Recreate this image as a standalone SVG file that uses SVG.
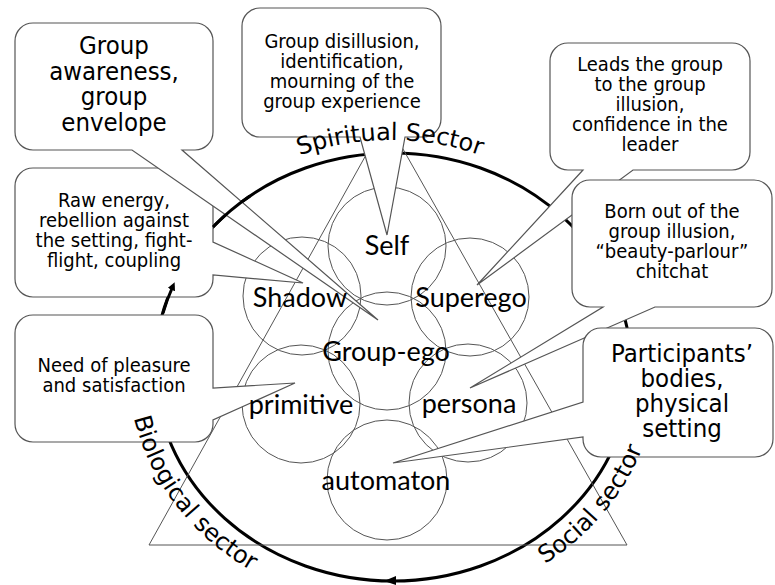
<svg xmlns="http://www.w3.org/2000/svg" width="775" height="585" viewBox="0 0 775 585">
<style>
.bg{fill:#fff}
.callout{fill:#fff;stroke:#555;stroke-width:1.2;stroke-linejoin:miter}
.ct{font-family:"DejaVu Sans Condensed","DejaVu Sans",sans-serif;font-stretch:condensed;font-size:20px;fill:#000;text-anchor:middle}
.ctl{font-family:"DejaVu Sans Condensed","DejaVu Sans",sans-serif;font-stretch:condensed;font-size:25.5px;fill:#000;text-anchor:middle}
.circ{fill:none;stroke:#555;stroke-width:1}
.tri{fill:none;stroke:#555;stroke-width:1}
.cl{font-family:Lato,"Open Sans",sans-serif;font-size:27px;fill:#000;text-anchor:middle}
.cycle{fill:none;stroke:#000;stroke-width:3}
.sector{font-family:"DejaVu Sans",sans-serif;font-size:24px;fill:#000}
</style>
<defs>
<marker id="arr" markerWidth="8" markerHeight="8" refX="4" refY="4" orient="auto" markerUnits="userSpaceOnUse" viewBox="0 0 8 8">
<path d="M0,0 L8,4 L0,8 Z" fill="#000"/>
</marker>
<path id="spiritPath" d="M116,414 A274,274 0 0 1 664,414"/>
<path id="bioPath" d="M134,418 A265,241 0 0 0 393,608"/>
<path id="socialPath" d="M545,564 A265,241 0 0 0 658,367"/>
</defs>
<rect class="bg" x="0" y="0" width="775" height="585"/>

<g id="connectors">
<ellipse class="cycle" cx="393" cy="367" rx="238" ry="214"/>
<path d="M384,581 L396,576 L396,585 Z" fill="#000"/>
</g>

<g id="shapes">
<path class="tri" d="M386,119 L149,545 L627,545 Z"/>
</g>

<g id="circles">
<circle id="c-self" class="circ" cx="387" cy="246" r="59"/>
<circle id="c-shadow" class="circ" cx="302" cy="296" r="59"/>
<circle id="c-superego" class="circ" cx="470" cy="297" r="59"/>
<circle id="c-groupego" class="circ" cx="387" cy="351" r="59"/>
<circle id="c-primitive" class="circ" cx="301" cy="404" r="59"/>
<circle id="c-persona" class="circ" cx="468" cy="403" r="59"/>
<circle id="c-automaton" class="circ" cx="387" cy="480" r="60"/>
</g>

<g id="callout-raw">
<path class="callout" d="M33,168 H195 A18,18 0 0 1 213,186 V242 L303,283 L213,275 V279 A18,18 0 0 1 195,297 H33 A18,18 0 0 1 15,279 V186 A18,18 0 0 1 33,168 Z"/>
<text class="ct" x="114" y="207">Raw energy,</text>
<text class="ct" x="114" y="227">rebellion against</text>
<text class="ct" x="114" y="247">the setting, fight-</text>
<text class="ct" x="114" y="267">flight, coupling</text>
</g>

<g id="callout-need">
<path class="callout" d="M33,315 H195 A18,18 0 0 1 213,333 V388 L295,383 L213,420 V424 A18,18 0 0 1 195,442 H33 A18,18 0 0 1 15,424 V333 A18,18 0 0 1 33,315 Z"/>
<text class="ct" x="114" y="372">Need of pleasure</text>
<text class="ct" x="114" y="392">and satisfaction</text>
</g>

<g id="callout-awareness">
<path class="callout" d="M33,23 H195 A18,18 0 0 1 213,41 V132 A18,18 0 0 1 195,150 H182 L378,320 L132,150 H33 A18,18 0 0 1 15,132 V41 A18,18 0 0 1 33,23 Z"/>
<text class="ctl" x="114" y="54">Group</text>
<text class="ctl" x="114" y="79.5">awareness,</text>
<text class="ctl" x="114" y="105">group</text>
<text class="ctl" x="114" y="130.5">envelope</text>
</g>

<g id="cycle-overlay">
<path class="cycle" d="M213,227 A238,214 0 0 1 250,196"/>
<path class="cycle" d="M163,313 A238,214 0 0 1 173,286" marker-end="url(#arr)"/>
</g>

<g id="callout-disillusion">
<path class="callout" d="M260,8 H423 A18,18 0 0 1 441,26 V119 A18,18 0 0 1 423,137 H405 L387,235 L360,137 H260 A18,18 0 0 1 242,119 V26 A18,18 0 0 1 260,8 Z"/>
<text class="ct" x="342" y="48">Group disillusion,</text>
<text class="ct" x="342" y="68">identification,</text>
<text class="ct" x="342" y="88">mourning of the</text>
<text class="ct" x="342" y="108">group experience</text>
</g>

<g id="callout-leads">
<path class="callout" d="M568,43 H732 A18,18 0 0 1 750,61 V152 A18,18 0 0 1 732,170 H633 L477,285 L583,170 H568 A18,18 0 0 1 550,152 V61 A18,18 0 0 1 568,43 Z"/>
<text class="ct" x="650" y="71">Leads the group</text>
<text class="ct" x="650" y="91">to the group</text>
<text class="ct" x="650" y="111">illusion,</text>
<text class="ct" x="650" y="131">confidence in the</text>
<text class="ct" x="650" y="151">leader</text>
</g>

<g id="callout-born">
<path class="callout" d="M590,180 H754 A18,18 0 0 1 772,198 V289 A18,18 0 0 1 754,307 H655 L470,388 L603,307 H590 A18,18 0 0 1 572,289 V198 A18,18 0 0 1 590,180 Z"/>
<text class="ct" x="672" y="218">Born out of the</text>
<text class="ct" x="672" y="238">group illusion,</text>
<text class="ct" x="672" y="258">“beauty-parlour”</text>
<text class="ct" x="672" y="278">chitchat</text>
</g>

<g id="callout-participants">
<path class="callout" d="M601,328 H755 A18,18 0 0 1 773,346 V439 A18,18 0 0 1 755,457 H601 A18,18 0 0 1 583,439 V437 L393,463 L583,402 V346 A18,18 0 0 1 601,328 Z"/>
<text class="ctl" x="682" y="362">Participants’</text>
<text class="ctl" x="682" y="387">bodies,</text>
<text class="ctl" x="682" y="412">physical</text>
<text class="ctl" x="682" y="437">setting</text>
</g>

<g id="labels">
<text class="cl" x="387" y="255">Self</text>
<text class="cl" x="300" y="307">Shadow</text>
<text class="cl" x="471" y="307">Superego</text>
<text class="cl" x="386" y="361">Group-ego</text>
<text class="cl" x="301" y="414">primitive</text>
<text class="cl" x="469" y="413">persona</text>
<text class="cl" x="386" y="490">automaton</text>
</g>

<g id="sectors">
<text class="sector" text-anchor="middle"><textPath href="#spiritPath" startOffset="50%">Spiritual Sector</textPath></text>
<text class="sector"><textPath href="#bioPath" startOffset="0">Biological sector</textPath></text>
<text class="sector"><textPath href="#socialPath" startOffset="0">Social sector</textPath></text>
</g>
</svg>
